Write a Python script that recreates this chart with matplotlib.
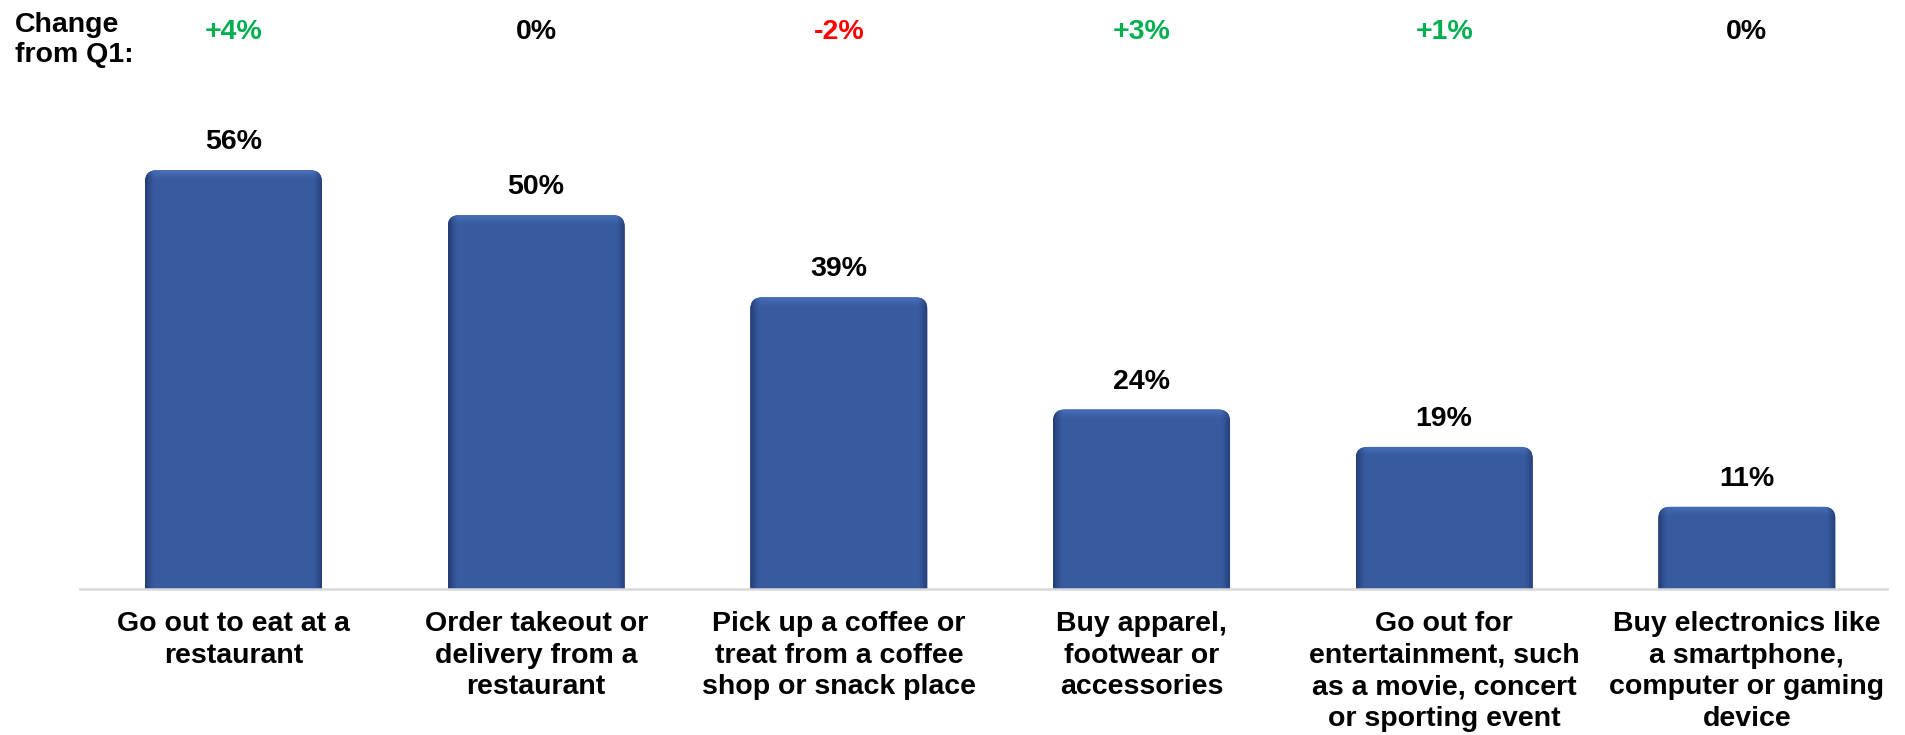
import numpy as np
import matplotlib.pyplot as plt
from matplotlib.patches import FancyBboxPatch, BoxStyle
from matplotlib.transforms import blended_transform_factory

plt.rcParams['font.family'] = ['Liberation Sans', 'DejaVu Sans']
plt.rcParams['font.weight'] = 'bold'

# survey data
categories = [
    "Go out to eat at a\nrestaurant",
    "Order takeout or\ndelivery from a\nrestaurant",
    "Pick up a coffee or\ntreat from a coffee\nshop or snack place",
    "Buy apparel,\nfootwear or\naccessories",
    "Go out for\nentertainment, such\nas a movie, concert\nor sporting event",
    "Buy electronics like\na smartphone,\ncomputer or gaming\ndevice",
]
values = [56, 50, 39, 24, 19, 11]
changes = ["+4%", "0%", "-2%", "+3%", "+1%", "0%"]

GREEN = "#00B050"
RED = "#FF0000"
BASE = np.array([0.22, 0.36, 0.63])
DARK = np.array([0.14, 0.24, 0.46])
LIGHT = np.array([0.30, 0.45, 0.74])


def change_color(txt):
    if txt.startswith("+"):
        return GREEN
    if txt.startswith("-"):
        return RED
    return "black"


fig = plt.figure(figsize=(19.06, 7.35), dpi=100)
ax = fig.add_axes([80 / 1906, 146 / 735, 1807 / 1906, 589 / 735])

x = np.arange(len(values))
width = 0.585
ylim_top = 589 / 7.48
bars = ax.bar(x, values, width=width, color=BASE, zorder=2)

# px per data unit, used for the bevel / rounded corners
px_x = 302.7
px_y = 7.48
for b in bars:
    x0, w, h = b.get_x(), b.get_width(), b.get_height()
    r = 12 / px_x
    clip = FancyBboxPatch((x0, -3), w, h + 3,
                          boxstyle=BoxStyle("Round", pad=0, rounding_size=r),
                          mutation_aspect=px_x / px_y,
                          transform=ax.transData, facecolor="none", edgecolor="none")
    ax.add_patch(clip)
    b.set_clip_path(clip)

    # shading: darker sides, light band under the top edge
    nx, ny = 200, max(int(h * px_y), 2)
    u = np.linspace(0, 1, nx)
    d = np.minimum(u, 1 - u) * w * px_x
    side = np.clip(1 - d / 10, 0, 1) ** 1.4
    v = np.linspace(0, 1, ny)[:, None]
    dtop = (1 - v) * h * px_y
    top = np.clip(1 - dtop / 9, 0, 1)
    img = BASE[None, None, :] * np.ones((ny, nx, 3))
    img = img + (LIGHT - BASE)[None, None, :] * (0.8 * top)[:, :, None]
    img = img + (DARK - img) * side[None, :, None]
    im = ax.imshow(img, extent=(x0, x0 + w, 0, h), origin="lower",
                   aspect="auto", interpolation="bilinear", zorder=3)
    im.set_clip_path(clip)

for xi, v in zip(x, values):
    ax.annotate(f"{v}%", (xi, v), xytext=(0, 15), textcoords="offset points",
                ha="center", va="baseline", fontsize=20.5, fontweight="bold", zorder=5)

trans = blended_transform_factory(ax.transData, fig.transFigure)
for xi, c in zip(x, changes):
    ax.text(xi, 1 - 39 / 735, c, transform=trans, ha="center", va="baseline",
            fontsize=20.5, fontweight="bold", color=change_color(c))

fig.text(15 / 1906, 1 - 12 / 735, "Change\nfrom Q1:", ha="left", va="top",
         fontsize=20.5, fontweight="bold", linespacing=1.2)

ax.set_xlim(-0.507, 5.463)
ax.set_ylim(0, ylim_top)
ax.set_xticks(x, categories)
ax.tick_params(axis="x", length=0, pad=16, labelsize=20.5)
for lbl in ax.get_xticklabels():
    lbl.set_linespacing(1.28)
    lbl.set_fontweight("bold")
ax.set_yticks([])
for s in ["top", "left", "right"]:
    ax.spines[s].set_visible(False)
ax.spines["bottom"].set_color("#D9D9D9")
ax.spines["bottom"].set_linewidth(1.8)
ax.spines["bottom"].set_zorder(4)

fig.savefig("out.png", dpi=100)
